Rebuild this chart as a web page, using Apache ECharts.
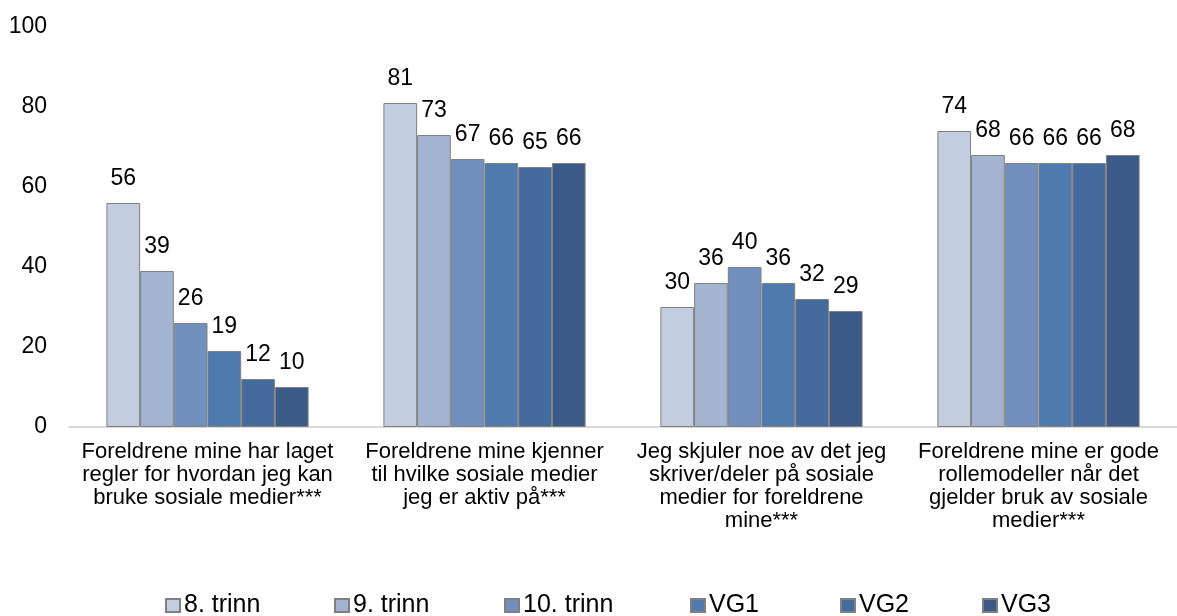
<!DOCTYPE html>
<html>
<head>
<meta charset="utf-8">
<script src="https://cdn.jsdelivr.net/npm/echarts@6/dist/echarts.min.js"></script>
<style>
  html, body { margin: 0; padding: 0; background: #ffffff; }
  #chart { width: 1177px; height: 616px; }
</style>
</head>
<body>
<div id="chart"></div>
<script>
// Statements shown on the category axis
const categories = [
  'Foreldrene mine har laget\nregler for hvordan jeg kan\nbruke sosiale medier***',
  'Foreldrene mine kjenner\ntil hvilke sosiale medier\njeg er aktiv på***',
  'Jeg skjuler noe av det jeg\nskriver/deler på sosiale\nmedier for foreldrene\nmine***',
  'Foreldrene mine er gode\nrollemodeller når det\ngjelder bruk av sosiale\nmedier***'
];

// Grade levels (one series each)
const seriesNames = ['8. trinn', '9. trinn', '10. trinn', 'VG1', 'VG2', 'VG3'];

// Percentages per grade level, in category order
const trinn8 = [56, 81, 30, 74];
const trinn9 = [39, 73, 36, 68];
const trinn10 = [26, 67, 40, 66];
const vg1 = [19, 66, 36, 66];
const vg2 = [12, 65, 32, 66];
const vg3 = [10, 66, 29, 68];

// Y axis range
const yMin = 0;
const yMax = 100;
const yStep = 20;

const seriesValues = [trinn8, trinn9, trinn10, vg1, vg2, vg3];
const colors = ['#C3CDE0', '#A3B4D0', '#7190BE', '#4F7AAE', '#456B9D', '#3B5A88'];
const legendLeft = [165, 334, 504, 690, 840, 982];

const FONT = 'Liberation Sans, Arial, sans-serif';
const chart = echarts.init(document.getElementById('chart'), null, { renderer: 'canvas' });

const series = seriesValues.map((vals, i) => ({
  name: seriesNames[i],
  type: 'bar',
  data: vals,
  barGap: '0%',
  barCategoryGap: '27%',
  itemStyle: { color: colors[i], borderColor: '#808080', borderWidth: 1 },
  label: {
    show: true,
    position: 'top',
    distance: 13,
    color: '#000000',
    fontFamily: FONT,
    fontSize: 23
  },
  emphasis: { disabled: true }
}));

// One legend block per grade level so each entry sits in its own slot
const legends = seriesNames.map((n, i) => ({
  data: [n],
  left: legendLeft[i],
  top: 593,
  icon: 'rect',
  itemWidth: 14,
  itemHeight: 13,
  itemGap: 0,
  padding: 0,
  textStyle: { color: '#000000', fontFamily: FONT, fontSize: 25, padding: [0, 0, 0, -1] }
}));

chart.setOption({
  animation: false,
  backgroundColor: '#ffffff',
  legend: legends,
  grid: { left: 69, top: 27, width: 1116, height: 400, containLabel: false },
  xAxis: {
    type: 'category',
    data: categories,
    axisLine: { show: true, lineStyle: { color: '#D9D9D9', width: 2 } },
    axisTick: { show: false },
    axisLabel: {
      interval: 0,
      margin: 13,
      color: '#000000',
      fontFamily: FONT,
      fontSize: 22,
      lineHeight: 23,
      align: 'center'
    }
  },
  yAxis: {
    type: 'value',
    min: yMin,
    max: yMax,
    interval: yStep,
    axisLine: { show: false },
    axisTick: { show: false },
    splitLine: { show: false },
    axisLabel: {
      margin: 22,
      color: '#000000',
      fontFamily: FONT,
      fontSize: 23
    }
  },
  series: series
});
</script>
</body>
</html>
